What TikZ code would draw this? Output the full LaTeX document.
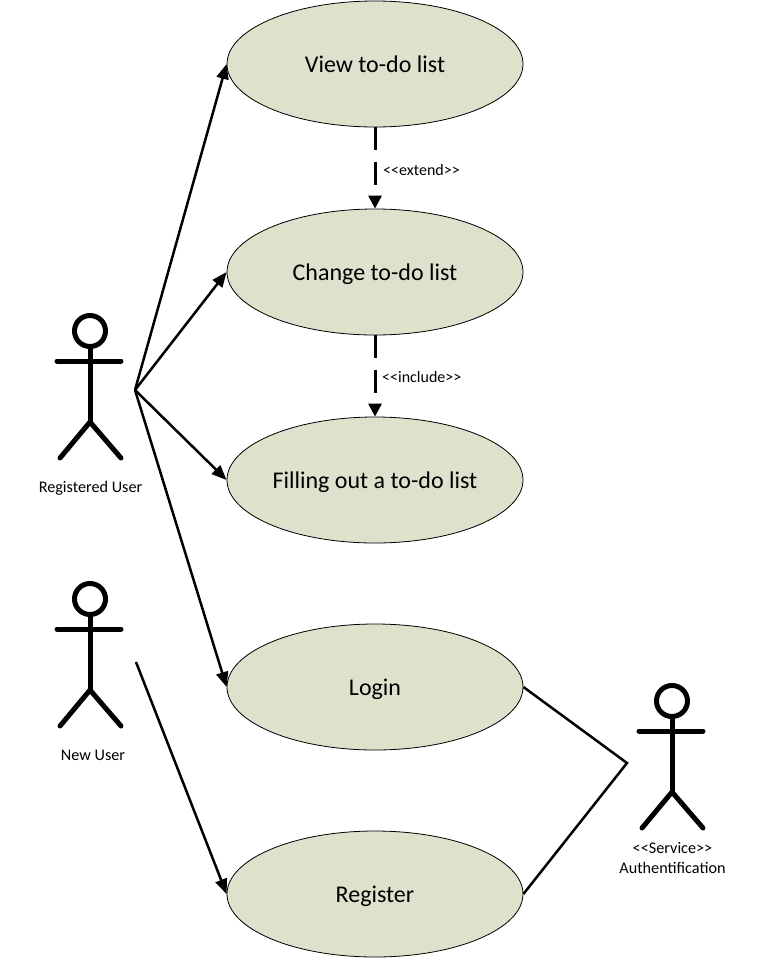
\documentclass[tikz,border=0pt]{standalone}
\usepackage{fontspec}
\setmainfont{Carlito}
\usetikzlibrary{shapes.geometric,arrows.meta}
\definecolor{ucfill}{HTML}{DEE1CC}
\newcommand{\stl}{{<}\kern0pt{<}}
\newcommand{\str}{{>}\kern0pt{>}}
\tikzset{
  x=1pt,y=-1pt,
  usecase/.style={ellipse,draw=black,line width=0.8pt,fill=ucfill,minimum width=296pt,minimum height=126pt,inner sep=0pt,text height=21pt,text depth=4pt,font=\fontsize{24}{27}\selectfont},
  solidarrow/.style={line width=2.5pt,-{Triangle[length=15pt,width=12pt]}},
  dasharrow/.style={line width=3pt,dash pattern=on 23pt off 12pt,-{Triangle[length=13pt,width=13pt]}},
  assoc/.style={line width=2.5pt},
  caption/.style={font=\fontsize{16.2}{19.5}\selectfont,inner sep=0pt,align=center},
  stereotype/.style={font=\fontsize{16}{19}\selectfont,inner sep=0pt},
  pics/actor/.style={code={
    \draw[line width=5pt,line cap=round] (0,0) circle[radius=15.5];
    \draw[line width=5pt,line cap=round] (0,15.5) -- (0,91);
    \draw[line width=5pt,line cap=round] (-33,30) -- (31,30);
    \draw[line width=5pt,line cap=round,line join=round] (-30,127) -- (0,91) -- (31,127);
  }}
}
\begin{document}
\begin{tikzpicture}
\useasboundingbox (0,0) rectangle (763,959);
\node[usecase] (view) at (375,64) {View to-do list};
\node[usecase] (change) at (375,272) {Change to-do list};
\node[usecase] (fill) at (375,480) {Filling out a to-do list};
\node[usecase] (login) at (375,687) {Login};
\node[usecase] (register) at (375,894) {Register};

\pic at (90,331) {actor};
\pic at (90,599) {actor};
\pic at (672,701) {actor};

\node[caption] (lreg) at (90.5,488) {Registered User};
\node[caption] (lnew) at (93,755.5) {New User};
\node[caption] (lauth) at (672.5,858) {\stl Service\str\\Authentification};

\coordinate (regfrom) at (135,390);
\coordinate (newfrom) at (136,662);
\coordinate (authto) at (627,763);

\draw[solidarrow] (regfrom) -- (view.west);
\draw[solidarrow] (regfrom) -- (change.west);
\draw[solidarrow] (regfrom) -- (fill.west);
\draw[solidarrow] (regfrom) -- (login.west);
\draw[solidarrow] (newfrom) -- (register.west);
\draw[assoc] (login.east) -- (authto) -- (register.east);

\draw[dasharrow] (view.south) -- (change.north);
\draw[dasharrow] (change.south) -- (fill.north);
\node[stereotype,anchor=west] (lext) at (383,169.5) {\stl extend\str};
\node[stereotype,anchor=west] (linc) at (382,376.5) {\stl include\str};
\end{tikzpicture}
\end{document}
